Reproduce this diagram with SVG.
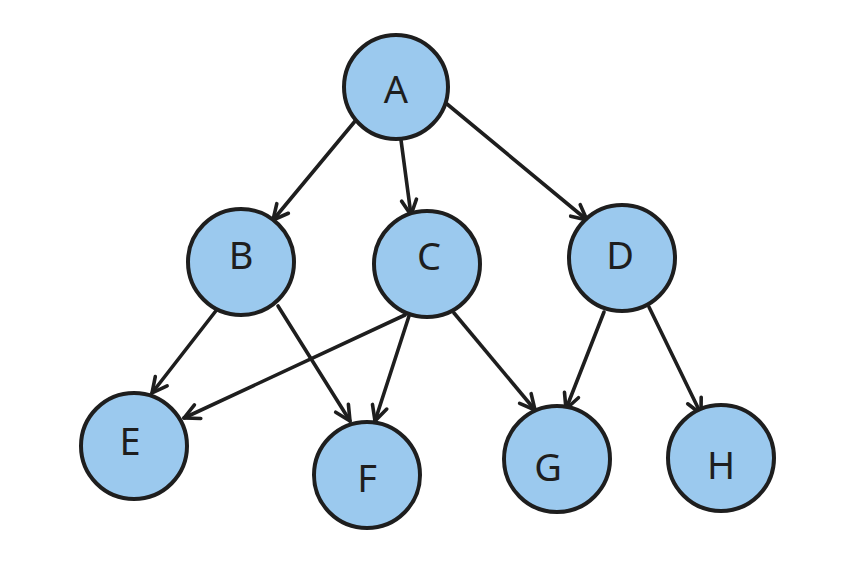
<svg xmlns="http://www.w3.org/2000/svg" width="865" height="588" viewBox="0 0 865 588">
<style>
.n circle{fill:#9bc9ee;stroke:#1e1e1e;stroke-width:4}
.n text{font-family:"Noto Sans",sans-serif;font-size:38px;fill:#1e1e1e;text-anchor:middle;dominant-baseline:central}
.e line{stroke:#1e1e1e;stroke-width:3.6;stroke-linecap:round;fill:none;marker-end:url(#ah)}
</style>
<defs>
<marker id="ah" markerUnits="userSpaceOnUse" viewBox="-18 -11 22 22" refX="0" refY="0" markerWidth="22" markerHeight="22" orient="auto">
<path d="M-15,-7.5 L0,0 L-15,7.5" fill="none" stroke="#1e1e1e" stroke-width="3.6" stroke-linecap="round" stroke-linejoin="round"/>
</marker>
</defs>
<rect width="865" height="588" fill="#fff"/>
<g id="edges" class="e">
<line x1="356" y1="120" x2="273" y2="220"/>
<line x1="401" y1="140" x2="411" y2="215"/>
<line x1="447" y1="104" x2="587" y2="220"/>
<line x1="222" y1="303" x2="152" y2="393"/>
<line x1="278" y1="306" x2="350" y2="421"/>
<line x1="405" y1="315" x2="184" y2="418"/>
<line x1="409" y1="316" x2="375" y2="421"/>
<line x1="454" y1="313" x2="535" y2="410"/>
<line x1="604" y1="312" x2="566" y2="409"/>
<line x1="649" y1="307" x2="701" y2="414"/>
</g>
<g id="A" class="n"><circle cx="396" cy="87" r="52"/><text x="396" y="88">A</text></g>
<g id="B" class="n"><circle cx="241" cy="262" r="53"/><text x="241" y="254">B</text></g>
<g id="C" class="n"><circle cx="427" cy="264" r="53"/><text x="429" y="255">C</text></g>
<g id="D" class="n"><circle cx="622" cy="258" r="53"/><text x="620" y="254">D</text></g>
<g id="E" class="n"><circle cx="134" cy="446" r="53"/><text x="130" y="440">E</text></g>
<g id="F" class="n"><circle cx="367" cy="475" r="53"/><text x="367" y="477">F</text></g>
<g id="G" class="n"><circle cx="557" cy="459" r="53"/><text x="548" y="466">G</text></g>
<g id="H" class="n"><circle cx="721" cy="458" r="53"/><text x="721" y="464">H</text></g>
</svg>
